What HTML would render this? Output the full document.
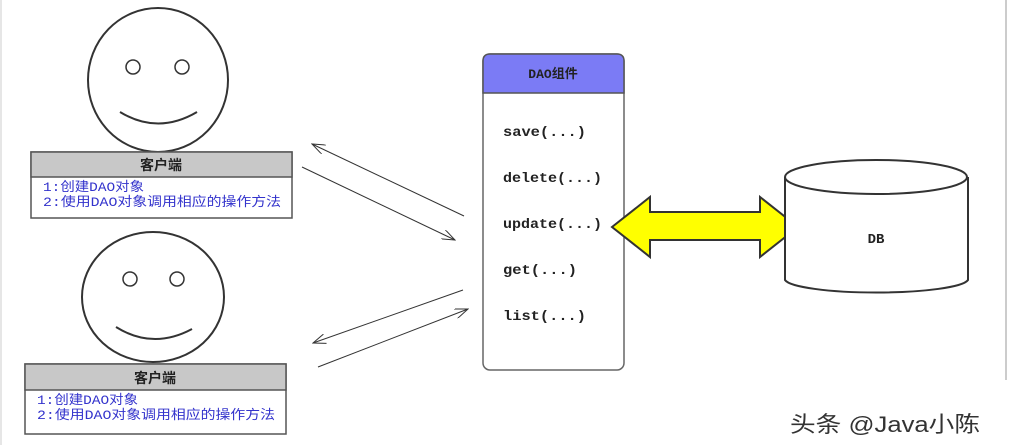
<!DOCTYPE html>
<html><head><meta charset="utf-8"><style>
body{margin:0;background:#fff;}
svg{display:block;}
text{font-family:"Liberation Mono","Noto Sans CJK SC",monospace;}
</style></head><body>
<svg width="1009" height="445" viewBox="0 0 1009 445" xmlns="http://www.w3.org/2000/svg">
<defs>
<marker id="ah" markerWidth="14" markerHeight="10" refX="13" refY="5" orient="auto" markerUnits="userSpaceOnUse">
<path d="M0,0 L13,5 L0,10" fill="none" stroke="#333" stroke-width="1"/>
</marker>
</defs>
<rect x="0" y="0" width="1009" height="445" fill="#fff"/>
<line x1="1" y1="0" x2="1" y2="445" stroke="#ccc"/>
<line x1="1006" y1="0" x2="1006" y2="380" stroke="#999"/>
<!-- face 1 -->
<ellipse cx="158" cy="80" rx="70" ry="72" fill="#fff" stroke="#333" stroke-width="2"/>
<circle cx="133" cy="67" r="7" fill="none" stroke="#333" stroke-width="1.5"/>
<circle cx="182" cy="67" r="7" fill="none" stroke="#333" stroke-width="1.5"/>
<path d="M120,112 Q158,135 197,112" fill="none" stroke="#333" stroke-width="2"/>
<!-- box 1 -->
<rect x="31" y="152" width="261" height="66" fill="#fff" stroke="#555" stroke-width="1.5"/>
<rect x="31" y="152" width="261" height="25" fill="#c8c8c8" stroke="#555" stroke-width="1.5"/>
<text x="161" y="170" font-size="14" font-weight="bold" text-anchor="middle" fill="#222">客户端</text>
<text x="43" y="191" font-size="13" fill="#3333cc" textLength="101" lengthAdjust="spacingAndGlyphs">1:创建DAO对象</text>
<text x="43" y="206" font-size="13" fill="#3333cc" textLength="238" lengthAdjust="spacingAndGlyphs">2:使用DAO对象调用相应的操作方法</text>
<!-- face 2 -->
<ellipse cx="153" cy="297" rx="71" ry="65" fill="#fff" stroke="#333" stroke-width="2"/>
<circle cx="130" cy="279" r="7" fill="none" stroke="#333" stroke-width="1.5"/>
<circle cx="177" cy="279" r="7" fill="none" stroke="#333" stroke-width="1.5"/>
<path d="M116,327 Q153,350 192,329" fill="none" stroke="#333" stroke-width="2"/>
<!-- box 2 -->
<rect x="25" y="364" width="261" height="70" fill="#fff" stroke="#555" stroke-width="1.5"/>
<rect x="25" y="364" width="261" height="26" fill="#c8c8c8" stroke="#555" stroke-width="1.5"/>
<text x="155" y="383" font-size="14" font-weight="bold" text-anchor="middle" fill="#222">客户端</text>
<text x="37" y="404" font-size="13" fill="#3333cc" textLength="101" lengthAdjust="spacingAndGlyphs">1:创建DAO对象</text>
<text x="37" y="419" font-size="13" fill="#3333cc" textLength="238" lengthAdjust="spacingAndGlyphs">2:使用DAO对象调用相应的操作方法</text>
<!-- arrows -->
<line x1="464" y1="216" x2="312" y2="144" stroke="#333" stroke-width="1" marker-end="url(#ah)"/>
<line x1="302" y1="167" x2="455" y2="240" stroke="#333" stroke-width="1" marker-end="url(#ah)"/>
<line x1="463" y1="290" x2="313" y2="343" stroke="#333" stroke-width="1" marker-end="url(#ah)"/>
<line x1="318" y1="367" x2="468" y2="309" stroke="#333" stroke-width="1" marker-end="url(#ah)"/>
<!-- DAO box -->
<rect x="483" y="54" width="141" height="316" rx="7" fill="#fff" stroke="#666" stroke-width="1.5"/>
<path d="M483,93 L483,61 Q483,54 490,54 L617,54 Q624,54 624,61 L624,93 Z" fill="#7b7bf5" stroke="#555" stroke-width="1.5"/>
<text x="553" y="78" font-size="13" font-weight="bold" text-anchor="middle" fill="#222">DAO组件</text>
<g font-size="14" font-weight="bold" fill="#222">
<text x="503" y="136" textLength="83" lengthAdjust="spacingAndGlyphs">save(...)</text>
<text x="503" y="182" textLength="99" lengthAdjust="spacingAndGlyphs">delete(...)</text>
<text x="503" y="228" textLength="99" lengthAdjust="spacingAndGlyphs">update(...)</text>
<text x="503" y="274" textLength="74" lengthAdjust="spacingAndGlyphs">get(...)</text>
<text x="503" y="320" textLength="83" lengthAdjust="spacingAndGlyphs">list(...)</text>
</g>
<!-- yellow arrow -->
<polygon points="612,227 650,197 650,212 760,212 760,197 798,227 760,257 760,240 650,240 650,257" fill="#ffff00" stroke="#333" stroke-width="2"/>
<!-- DB -->
<path d="M785,177 L785,280 A92,14 0 0 0 968,280 L968,177" fill="#fff" stroke="#333" stroke-width="2"/>
<ellipse cx="876" cy="177" rx="91" ry="17" fill="#fff" stroke="#333" stroke-width="2"/>
<text x="876" y="243" font-size="14" font-weight="bold" text-anchor="middle" fill="#222">DB</text>
<!-- watermark -->
<text x="790" y="432" font-size="22" fill="#333" textLength="190" lengthAdjust="spacingAndGlyphs" style="font-family:'Liberation Sans','Noto Sans CJK SC',sans-serif">头条 @Java小陈</text>
</svg>
</body></html>
